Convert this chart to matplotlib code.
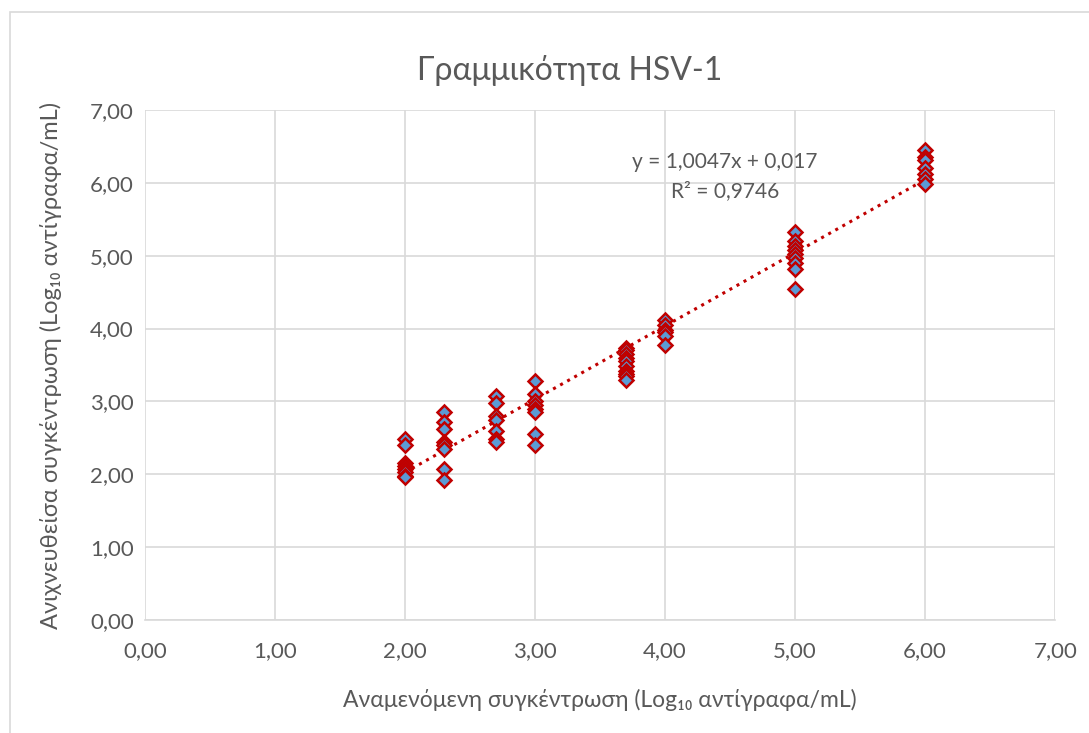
import matplotlib
matplotlib.use('Agg')
import matplotlib.pyplot as plt
from matplotlib.patches import Rectangle
from matplotlib.ticker import FuncFormatter, MultipleLocator
import numpy as np

plt.rcParams['font.family'] = ['Lato', 'DejaVu Sans']

# expected concentration (log10 copies/mL) per level and measured values
x_2_0 = [2.00] * 8
y_2_0 = [2.48, 2.40, 2.16, 2.12, 2.07, 2.03, 1.98, 1.96]
x_2_3 = [2.30] * 8
y_2_3 = [2.85, 2.72, 2.62, 2.45, 2.40, 2.35, 2.08, 1.92]
x_2_7 = [2.70] * 7
y_2_7 = [3.08, 2.98, 2.80, 2.74, 2.60, 2.48, 2.45]
x_3_0 = [3.00] * 8
y_3_0 = [3.28, 3.10, 3.00, 2.95, 2.90, 2.85, 2.56, 2.40]
x_3_7 = [3.70] * 10
y_3_7 = [3.73, 3.70, 3.65, 3.60, 3.55, 3.48, 3.42, 3.38, 3.35, 3.30]
x_4_0 = [4.00] * 6
y_4_0 = [4.12, 4.05, 3.98, 3.95, 3.90, 3.78]
x_5_0 = [5.00] * 9
y_5_0 = [5.33, 5.20, 5.13, 5.08, 5.02, 4.97, 4.90, 4.82, 4.55]
x_6_0 = [6.00] * 7
y_6_0 = [6.45, 6.35, 6.32, 6.20, 6.12, 6.05, 5.98]

expected = x_2_0 + x_2_3 + x_2_7 + x_3_0 + x_3_7 + x_4_0 + x_5_0 + x_6_0
detected = y_2_0 + y_2_3 + y_2_7 + y_3_0 + y_3_7 + y_4_0 + y_5_0 + y_6_0

# linear trendline as reported by the spreadsheet
slope = 1.0047
intercept = 0.017
r_squared = 0.9746

grey_text = '#595959'

fig = plt.figure(figsize=(10.89, 7.33), dpi=100)
ax = fig.add_axes([0.133, 0.154, 0.836, 0.696])

# outer chart border
fig.patches.append(Rectangle((0.009, -0.01), 1.0, 0.994, transform=fig.transFigure,
                             fill=False, edgecolor='#d9d9d9', linewidth=1.2))

trend_x = np.array([min(expected), max(expected)])
ax.plot(trend_x, slope * trend_x + intercept, linestyle=':', color='#c00000',
        linewidth=2.2, zorder=2)
ax.plot(expected, detected, linestyle='none', marker='D', markersize=7.2,
        markerfacecolor='#5b9bd5', markeredgecolor='#c00000', markeredgewidth=1.8, zorder=3)

ax.set_xlim(0, 7)
ax.set_ylim(0, 7)
ax.xaxis.set_major_locator(MultipleLocator(1))
ax.yaxis.set_major_locator(MultipleLocator(1))
fmt = FuncFormatter(lambda v, pos: f'{v:.2f}'.replace('.', ','))
ax.xaxis.set_major_formatter(fmt)
ax.yaxis.set_major_formatter(fmt)

ax.grid(True, color='#d9d9d9', linewidth=1.2)
ax.set_axisbelow(True)
for side in ['top', 'right', 'left']:
    ax.spines[side].set_visible(False)
ax.spines['bottom'].set_color('#d9d9d9')
ax.spines['bottom'].set_linewidth(1.2)
ax.tick_params(length=0, labelsize=16, colors=grey_text)
ax.tick_params(axis='x', pad=15)
ax.tick_params(axis='y', pad=8)

fig.text(570 / 1089, 1 - 70 / 733, 'Γραμμικότητα HSV-1', ha='center', va='center',
         fontsize=23, color=grey_text)
ax.set_xlabel('Αναμενόμενη συγκέντρωση (Log₁₀ αντίγραφα/mL)', fontsize=16.5,
              color=grey_text, labelpad=20)
ax.set_ylabel('Ανιχνευθείσα συγκέντρωση (Log₁₀ αντίγραφα/mL)', fontsize=17,
              color=grey_text, labelpad=20)

eq_text = f'y = {slope:.4f}x + {intercept:.3f}'.replace('.', ',')
r2_text = f'R² = {r_squared:.4f}'.replace('.', ',')
ax.text(4.46, 6.29, eq_text, ha='center', va='center', fontsize=15, color=grey_text)
ax.text(4.46, 5.88, r2_text, ha='center', va='center', fontsize=15, color=grey_text)

fig.savefig('out.png', dpi=100)
